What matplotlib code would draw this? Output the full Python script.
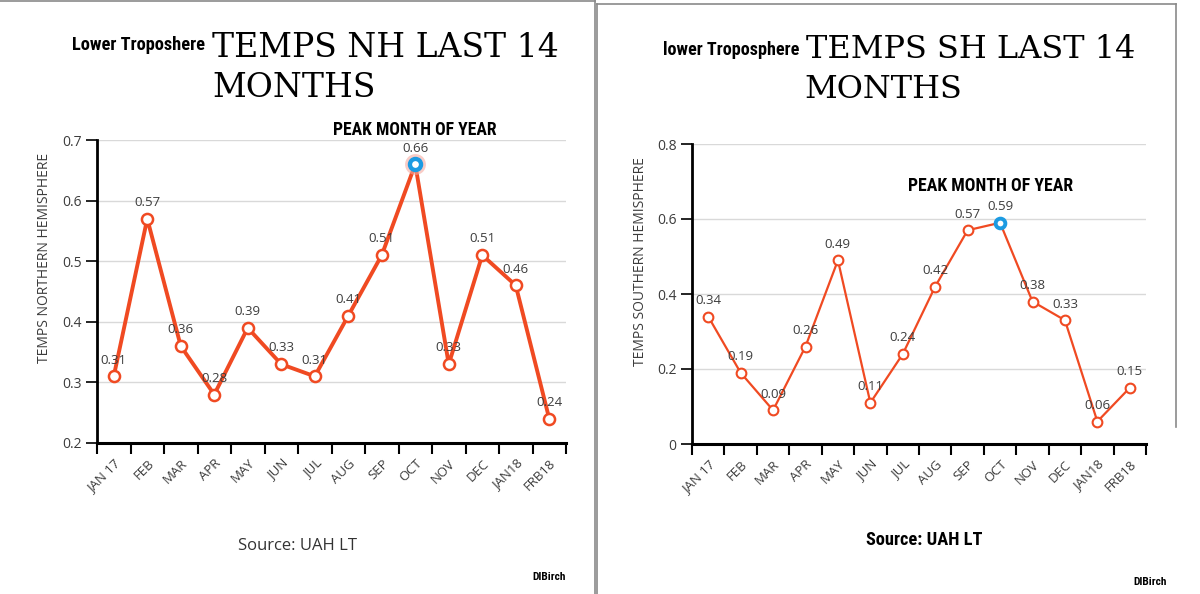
import matplotlib.pyplot as plt
from matplotlib.lines import Line2D

months = ["JAN 17", "FEB", "MAR", "APR", "MAY", "JUN", "JUL", "AUG",
          "SEP", "OCT", "NOV", "DEC", "JAN18", "FRB18"]
nh_temps = [0.31, 0.57, 0.36, 0.28, 0.39, 0.33, 0.31, 0.41, 0.51, 0.66,
            0.33, 0.51, 0.46, 0.24]
sh_temps = [0.34, 0.19, 0.09, 0.26, 0.49, 0.11, 0.24, 0.42, 0.57, 0.59,
            0.38, 0.33, 0.06, 0.15]
nh_ticks = [0.2, 0.3, 0.4, 0.5, 0.6, 0.7]
sh_ticks = [0, 0.2, 0.4, 0.6, 0.8]

RED = "#f04a22"
BLUE = "#1c9be2"
GRAY = "#3c3c3c"
SANS = "Open Sans"
NARROW = ["Roboto Condensed", "Liberation Sans Narrow", "Liberation Sans"]
SLAB = "DejaVu Serif"

W, H = 1200, 594
fig = plt.figure(figsize=(12, 5.94), dpi=100)


def px(x, y):
    return x / W, 1 - y / H


def make_axes(x0, x1, y_top, y_bot):
    l, b = px(x0, y_bot)
    return fig.add_axes([l, b, (x1 - x0) / W, (y_bot - y_top) / H])


def draw_chart(ax, vals, ticks, lw, ms, mew, peak_halo):
    n = len(vals)
    xs = list(range(n))
    ax.set_xlim(-0.5, n - 0.5)
    ax.set_ylim(ticks[0], ticks[-1])
    for t in ticks[1:]:
        ax.axhline(t, color="#d9d9d9", lw=1, zorder=0)
    ax.plot(xs, vals, color=RED, lw=lw, zorder=3, clip_on=False,
            marker="o", ms=ms, mfc="white", mec=RED, mew=mew)
    pk = vals.index(max(vals))
    if peak_halo:
        ax.plot(pk, vals[pk], "o", ms=ms + 7, mfc="#f6aaa0", mec="none",
                alpha=0.6, zorder=4, clip_on=False)
    ax.plot(pk, vals[pk], "o", ms=ms, mfc="white", mec=BLUE, mew=mew + 1.3,
            zorder=5, clip_on=False)
    for x, v in zip(xs, vals):
        ax.annotate(f"{v:.2f}", (x, v), xytext=(0, 7), textcoords="offset points",
                    ha="center", va="bottom", fontsize=9.5, color=GRAY,
                    family=SANS, zorder=6)
    for s in ["top", "right"]:
        ax.spines[s].set_visible(False)
    ax.spines["left"].set_linewidth(2)
    ax.spines["bottom"].set_linewidth(2.2)
    ax.set_yticks(ticks)
    ax.set_yticklabels([f"{t:g}" for t in ticks], family=SANS, fontsize=10,
                       color=GRAY)
    ax.tick_params(axis="y", length=8, width=1.2, pad=3)
    # category boundary ticks
    ax.set_xticks([i - 0.5 for i in range(n + 1)])
    ax.set_xticklabels([])
    ax.tick_params(axis="x", length=8, width=1.5)
    ax.set_xticks(xs, minor=True)
    ax.set_xticklabels(months, minor=True, rotation=45, ha="right",
                       rotation_mode="anchor", family=SANS, fontsize=9.5,
                       color=GRAY)
    ax.tick_params(axis="x", which="minor", length=0, pad=10)


ax1 = make_axes(97, 566, 140, 443)
draw_chart(ax1, nh_temps, nh_ticks, 2.8, 8, 1.8, True)
ax2 = make_axes(692, 1146, 144, 444)
draw_chart(ax2, sh_temps, sh_ticks, 1.6, 7, 1.5, False)

# axis titles
fig.text(*px(45, 258), "TEMPS NORTHERN HEMISPHERE", rotation=90, ha="center",
         va="center", family=SANS, fontsize=10, color=GRAY)
fig.text(*px(641, 262), "TEMPS SOUTHERN HEMISPHERE", rotation=90, ha="center",
         va="center", family=SANS, fontsize=10, color=GRAY)

# headings
fig.text(*px(72, 45), "Lower Troposhere", ha="left", va="center",
         family=NARROW, fontweight="bold", fontsize=13.2)
fig.text(*px(212, 48), "TEMPS NH LAST 14", ha="left", va="center",
         family=SLAB, fontsize=23.8)
fig.text(*px(212, 88), "MONTHS", ha="left", va="center", family=SLAB,
         fontsize=23.8)
fig.text(*px(663, 50), "lower Troposphere", ha="left", va="center",
         family=NARROW, fontweight="bold", fontsize=13.1)
fig.text(*px(806, 50), "TEMPS SH LAST 14", ha="left", va="center",
         family=SLAB, fontsize=23)
fig.text(*px(804, 90), "MONTHS", ha="left", va="center", family=SLAB,
         fontsize=23)

fig.text(*px(415, 130), "PEAK MONTH OF YEAR", ha="center", va="center",
         family=NARROW, fontweight="bold", fontsize=12.7)
fig.text(*px(991, 186), "PEAK MONTH OF YEAR", ha="center", va="center",
         family=NARROW, fontweight="bold", fontsize=12.8)

fig.text(*px(297, 546), "Source: UAH LT", ha="center", va="center",
         family=SANS, fontsize=12, color="#333333")
fig.text(*px(924, 540), "Source: UAH LT", ha="center", va="center",
         family=NARROW, fontweight="bold", fontsize=13.2)
fig.text(*px(566, 577), "DIBirch", ha="right", va="center", family=NARROW,
         fontweight="bold", fontsize=8.2)
fig.text(*px(1167, 582), "DIBirch", ha="right", va="center", family=NARROW,
         fontweight="bold", fontsize=8.2)

# panel frames
frame = dict(color="#8a8a8a", lw=1.2, transform=fig.transFigure)
fig.add_artist(Line2D([0, 595 / W], [1 - 1 / H] * 2, **frame))
fig.add_artist(Line2D([595 / W] * 2, [0, 1], **frame))
fig.add_artist(Line2D([597 / W, 1176 / W], [1 - 4 / H] * 2, **frame))
fig.add_artist(Line2D([597 / W] * 2, [0, 1 - 4 / H], **frame))
fig.add_artist(Line2D([1176 / W] * 2, [1 - 427 / H, 1 - 4 / H], **frame))

fig.savefig("out.png", dpi=100)
